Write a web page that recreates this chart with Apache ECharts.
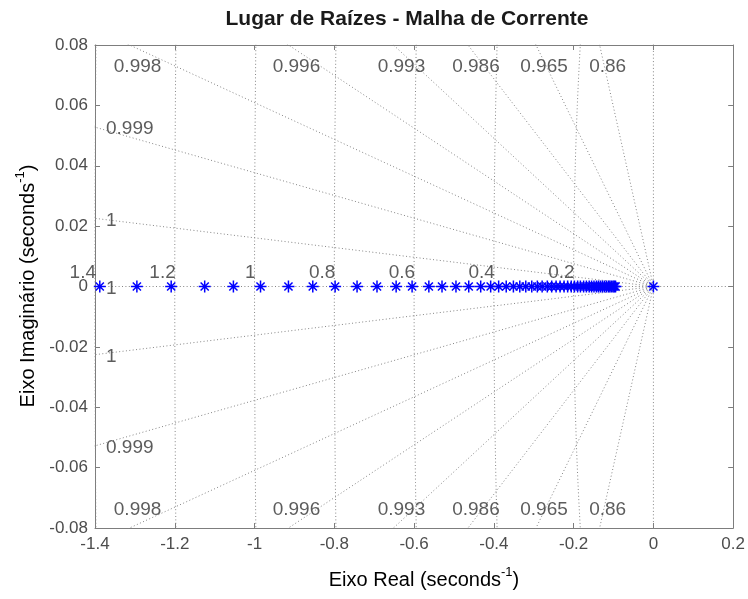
<!DOCTYPE html>
<html>
<head>
<meta charset="utf-8">
<script src="https://cdn.jsdelivr.net/npm/echarts@6/dist/echarts.min.js"></script>
<style>
  html, body { margin: 0; padding: 0; background: #ffffff; }
  #chart { width: 748px; height: 599px; }
</style>
</head>
<body>
<div id="chart"></div>
<script>
// Axis ticks
const xTicks = [-1.4, -1.2, -1, -0.8, -0.6, -0.4, -0.2, 0, 0.2];
const yTicks = [-0.08, -0.06, -0.04, -0.02, 0, 0.02, 0.04, 0.06, 0.08];

// Closed-loop poles along the real axis (root locus), plus the pole at the origin
const locusRe = [
  -1.388, -1.295, -1.209, -1.125, -1.053, -0.985, -0.915, -0.854, -0.798, -0.743,
  -0.693, -0.645, -0.605, -0.563, -0.530, -0.495, -0.463, -0.433, -0.408, -0.388,
  -0.369, -0.351, -0.335, -0.320, -0.305, -0.291, -0.279, -0.266, -0.255, -0.244,
  -0.234, -0.224, -0.215, -0.206, -0.198, -0.190, -0.183, -0.175, -0.168, -0.161,
  -0.155, -0.149, -0.143, -0.138, -0.133, -0.128, -0.123, -0.118, -0.113, -0.109,
  -0.105, -0.101, -0.098, -0.095, 0
];

// s-plane grid: natural frequencies and damping ratios
const wnValues = [0.2, 0.4, 0.6, 0.8, 1, 1.2, 1.4];
const zetaValues = [1, 0.99987, 0.99929, 0.99815, 0.9962, 0.99255, 0.98552, 0.965, 0.86, 0];

const FONT = "'Liberation Sans', Arial, Helvetica, sans-serif";
const GRID_COLOR = '#858585';
const GRID_DASH = [1, 2.4];
const xMin = xTicks[0], xMax = xTicks[xTicks.length - 1];
const yMin = yTicks[0], yMax = yTicks[yTicks.length - 1];
const FAR = 3;

const fmtTick = v => String(Math.round(v * 1000) / 1000);
const fmtZeta = z => String(parseFloat(z.toPrecision(3)));

const series = [];
const gridLine = (data) => ({
  type: 'line', data, symbol: 'none', silent: true, z: 1, animation: false,
  lineStyle: { color: GRID_COLOR, width: 1, type: GRID_DASH }
});

// natural-frequency half circles (left half plane)
wnValues.forEach(wn => {
  const pts = [];
  for (let im = -0.1; im <= 0.10001; im += 0.005) {
    pts.push([-Math.sqrt(wn * wn - im * im), im]);
  }
  series.push(gridLine(pts));
});

// constant-damping rays from the origin
zetaValues.forEach(z => {
  const s = Math.sqrt(1 - z * z);
  series.push(gridLine([[0, 0], [-z * FAR, s * FAR]]));
  if (z < 1) series.push(gridLine([[0, 0], [-z * FAR, -s * FAR]]));
});
// real axis to the right of the origin
series.push(gridLine([[0, 0], [FAR, 0]]));

// grid labels
const labelData = [];
wnValues.forEach(wn => {
  labelData.push({
    value: [-wn, 0],
    label: { formatter: String(wn), align: 'right', verticalAlign: 'bottom', offset: [1, -4] }
  });
});
zetaValues.filter(z => z > 0).forEach(z => {
  const slope = Math.sqrt(1 - z * z) / z;
  const txt = fmtZeta(z);
  const signs = z < 1 ? [1, -1] : [1];
  signs.forEach(sg => {
    if (slope * Math.abs(xMin) <= yMax) {
      labelData.push({
        value: [xMin, sg * slope * Math.abs(xMin)],
        label: { formatter: txt, align: 'left', verticalAlign: 'middle', offset: [11, 2] }
      });
    } else {
      const re = -yMax / slope;
      labelData.push({
        value: [re, sg * yMax],
        label: { formatter: txt, align: 'center', verticalAlign: 'middle', offset: [8, sg > 0 ? 22 : -18] }
      });
    }
  });
});
series.push({
  type: 'scatter', data: labelData, symbolSize: 0, silent: true, z: 3, animation: false,
  label: { show: true, position: [0, 0], color: '#333333', fontSize: 19, fontFamily: FONT }
});

// root locus markers
series.push({
  type: 'scatter', animation: false, z: 5,
  data: locusRe.map(re => [re, 0]),
  symbol: 'path://M0 5L10 5M5 0L5 10M1.6 1.6L8.4 8.4M8.4 1.6L1.6 8.4',
  symbolSize: 12,
  itemStyle: { color: '#0000ff', borderColor: '#0000ff', borderWidth: 1.5, opacity: 1 }
});

const axisCommon = {
  type: 'value',
  axisLine: { show: true, onZero: false, lineStyle: { color: '#7d7d7d', width: 1 } },
  axisTick: { show: true, inside: true, length: 5, lineStyle: { color: '#7d7d7d' } },
  splitLine: { show: false }
};
const xInterval = Math.round((xTicks[1] - xTicks[0]) * 1000) / 1000;
const yInterval = Math.round((yTicks[1] - yTicks[0]) * 1000) / 1000;

const nameRich = {
  a: { fontFamily: FONT, fontSize: 20, color: '#262626', lineHeight: 28, verticalAlign: 'middle' },
  s: { fontFamily: FONT, fontSize: 13, color: '#262626', lineHeight: 13, verticalAlign: 'top' }
};

const option = {
  backgroundColor: '#ffffff',
  animation: false,
  title: {
    text: 'Lugar de Raízes - Malha de Corrente',
    left: 402, top: 4, textAlign: 'center',
    textStyle: { fontFamily: FONT, fontSize: 21, fontWeight: 'bold', color: '#1a1a1a' }
  },
  grid: { left: 95, right: 13, top: 45, bottom: 71, containLabel: false },
  xAxis: [
    Object.assign({}, axisCommon, {
      position: 'bottom', min: xMin, max: xMax, interval: xInterval,
      axisLabel: { formatter: fmtTick, fontSize: 17, color: '#4d4d4d', fontFamily: FONT, margin: 8 }
    }),
    Object.assign({}, axisCommon, {
      position: 'top', min: xMin, max: xMax, interval: xInterval, axisLabel: { show: false }
    })
  ],
  yAxis: [
    Object.assign({}, axisCommon, {
      position: 'left', min: yMin, max: yMax, interval: yInterval,
      axisLabel: { formatter: fmtTick, fontSize: 17, color: '#4d4d4d', fontFamily: FONT, margin: 7 }
    }),
    Object.assign({}, axisCommon, {
      position: 'right', min: yMin, max: yMax, interval: yInterval, axisLabel: { show: false }
    })
  ],
  graphic: [
    {
      type: 'text', x: 424, y: 580,
      style: { text: '{a|Eixo Real (seconds}{s|-1}{a|)}', align: 'center', verticalAlign: 'middle', rich: nameRich }
    },
    {
      type: 'text', x: 28, y: 286, rotation: Math.PI / 2,
      style: { text: '{a|Eixo Imaginário (seconds}{s|-1}{a|)}', align: 'center', verticalAlign: 'middle', rich: nameRich }
    }
  ],
  series
};

const chart = echarts.init(document.getElementById('chart'), null, { renderer: 'canvas' });
chart.setOption(option);
</script>
</body>
</html>
